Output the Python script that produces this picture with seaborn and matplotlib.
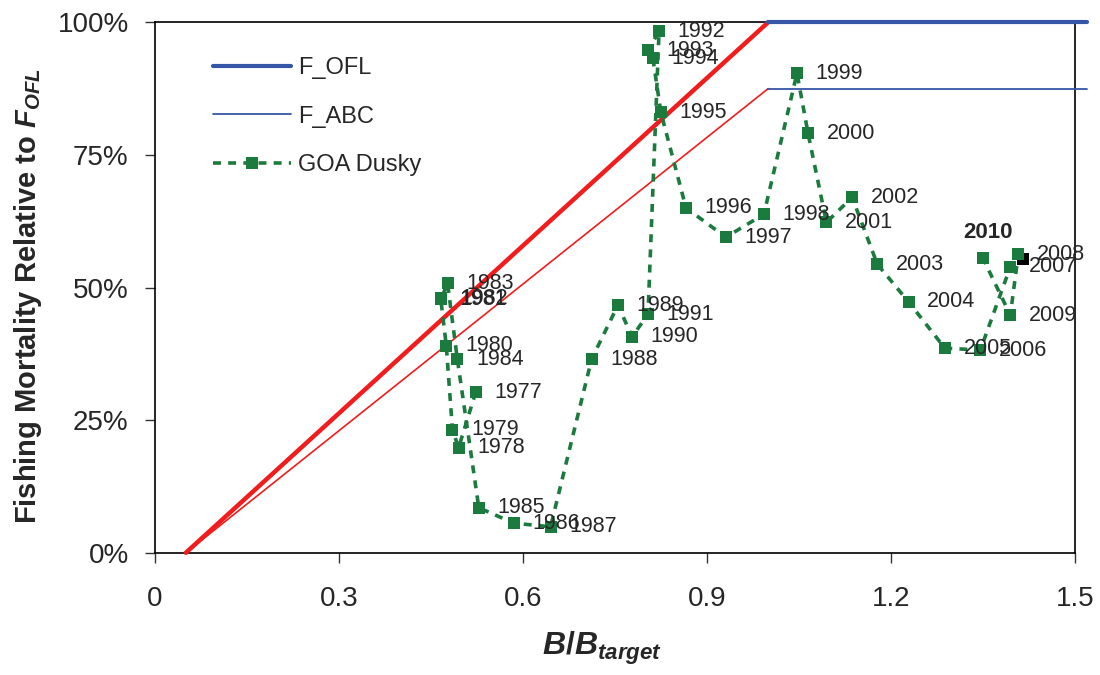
import matplotlib
matplotlib.use('Agg')
import matplotlib.pyplot as plt
import seaborn as sns
import pandas as pd

# ---- data ----
years = list(range(1977, 2011))
b_ratio = [0.523, 0.495, 0.485, 0.475, 0.466, 0.467, 0.477, 0.493, 0.528, 0.585,
           0.645, 0.712, 0.755, 0.778, 0.804, 0.822, 0.804, 0.812, 0.825, 0.866,
           0.931, 0.993, 1.047, 1.065, 1.095, 1.137, 1.178, 1.229, 1.288, 1.346,
           1.395, 1.408, 1.395, 1.350]
f_ratio = [0.303, 0.198, 0.232, 0.390, 0.478, 0.480, 0.508, 0.365, 0.085, 0.056,
           0.049, 0.365, 0.467, 0.407, 0.450, 0.983, 0.947, 0.932, 0.830, 0.650,
           0.595, 0.638, 0.904, 0.791, 0.623, 0.670, 0.544, 0.473, 0.386, 0.382,
           0.539, 0.563, 0.448, 0.556]
current_b = [1.415]
current_f = [0.554]

ofl_slope_b = [0.05, 1.0]
ofl_slope_f = [0.0, 1.0]
ofl_flat_b = [1.0, 1.52]
ofl_flat_f = [1.0, 1.0]
abc_slope_b = [0.05, 1.0]
abc_slope_f = [0.0, 0.875]
abc_flat_b = [1.0, 1.52]
abc_flat_f = [0.875, 0.875]

x_ticks = [0, 0.3, 0.6, 0.9, 1.2, 1.5]
x_tick_labels = ['0', '0.3', '0.6', '0.9', '1.2', '1.5']
y_ticks = [0, 0.25, 0.5, 0.75, 1.0]
y_tick_labels = ['0%', '25%', '50%', '75%', '100%']

# ---- style ----
sns.set_style('white')
plt.rcParams['font.family'] = ['Liberation Sans', 'DejaVu Sans']
plt.rcParams['mathtext.fontset'] = 'custom'
plt.rcParams['mathtext.rm'] = 'Liberation Sans:bold'
plt.rcParams['mathtext.it'] = 'Liberation Sans:italic:bold'
plt.rcParams['mathtext.bf'] = 'Liberation Sans:bold'

BLUE = '#3556a6'
RED = '#f21c1c'
GREEN = '#1b7a3d'

fig = plt.figure(figsize=(11, 6.75), dpi=100)
ax = fig.add_axes([0.141, 0.181, 0.836, 0.786])

sns.lineplot(x=ofl_slope_b, y=ofl_slope_f, ax=ax, color=RED, linewidth=3.2,
             estimator=None, sort=False, clip_on=False, zorder=3)
sns.lineplot(x=abc_slope_b, y=abc_slope_f, ax=ax, color=RED, linewidth=1.2,
             estimator=None, sort=False, clip_on=False, zorder=3)
sns.lineplot(x=ofl_flat_b, y=ofl_flat_f, ax=ax, color=BLUE, linewidth=3.0,
             estimator=None, sort=False, clip_on=False, zorder=3, label='F_OFL')
sns.lineplot(x=abc_flat_b, y=abc_flat_f, ax=ax, color=BLUE, linewidth=1.3,
             estimator=None, sort=False, clip_on=False, zorder=3, label='F_ABC')

sns.scatterplot(x=current_b, y=current_f, ax=ax, color='black', marker='s',
                s=80, linewidth=0, zorder=4, legend=False)

df = pd.DataFrame({'year': years, 'b': b_ratio, 'f': f_ratio})
sns.lineplot(data=df, x='b', y='f', ax=ax, color=GREEN, linewidth=2.6,
             estimator=None, sort=False, marker='s', markersize=8,
             markeredgewidth=0, markerfacecolor=GREEN, zorder=5,
             label='GOA Dusky')
goa_line = ax.lines[-1]
goa_line.set_dashes((2.2, 2.0))

for yr, xb, yf in zip(years, b_ratio, f_ratio):
    if yr == 2010:
        ax.annotate(str(yr), (xb, yf), xytext=(-14, 18), textcoords='offset points',
                    ha='left', va='center', fontsize=16, fontweight='bold', zorder=6)
    else:
        ax.annotate(str(yr), (xb, yf), xytext=(13.5, 0), textcoords='offset points',
                    ha='left', va='center', fontsize=15.5, zorder=6)

ax.set_xlim(0, 1.5)
ax.set_ylim(0, 1.0)
ax.set_xticks(x_ticks)
ax.set_xticklabels(x_tick_labels)
ax.set_yticks(y_ticks)
ax.set_yticklabels(y_tick_labels)
ax.tick_params(axis='x', direction='out', length=7, width=1, pad=17,
               labelsize=20, bottom=True, color='#333333')
ax.tick_params(axis='y', direction='out', length=7, width=1, pad=12,
               labelsize=20, left=True, color='#333333')
for sp in ax.spines.values():
    sp.set_color('black')
    sp.set_linewidth(1.2)
    sp.set_visible(True)

ax.set_ylabel(r'Fishing Mortality Relative to $\mathit{F_{OFL}}$',
              fontsize=21, fontweight='bold')
ax.yaxis.set_label_coords(-0.121, 0.484)
ax.set_xlabel(r'$\mathit{B/B_{target}}$', fontsize=23)
ax.xaxis.set_label_coords(0.486, -0.145)

handles, labels = ax.get_legend_handles_labels()
ax.legend(handles, labels, loc='upper left', bbox_to_anchor=(0.063, 0.934),
          frameon=False, fontsize=17, handlelength=3.3, handletextpad=0.3,
          labelspacing=1.12, borderaxespad=0, borderpad=0, numpoints=1)

fig.savefig('out.png', dpi=100)
